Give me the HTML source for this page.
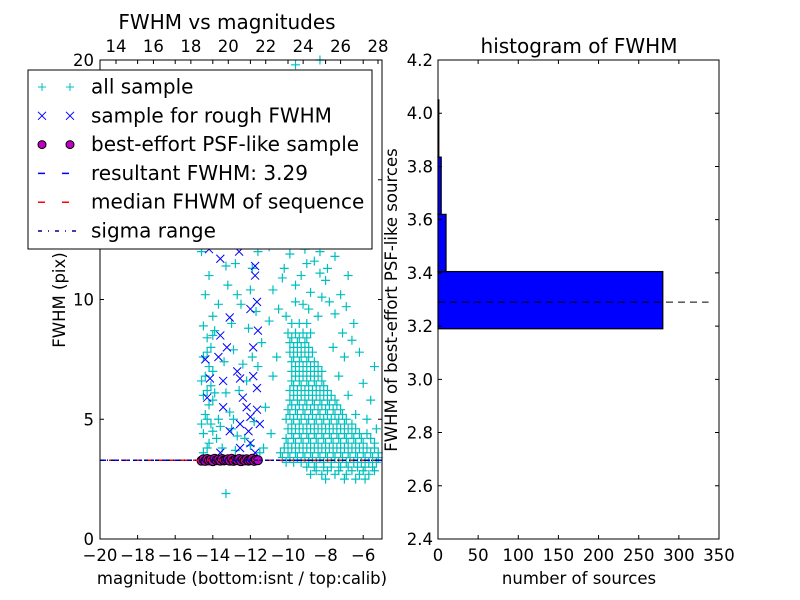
<!DOCTYPE html>
<html><head><meta charset="utf-8">
<style>
body{margin:0;background:#fff}
svg{display:block;font-family:"DejaVu Sans","Liberation Sans",sans-serif}
</style></head>
<body>
<svg id="chart" width="800" height="600" xmlns="http://www.w3.org/2000/svg">
<rect width="800" height="600" fill="#fff"/>
<g id="left"></g>
<g id="right"></g>
</svg>
<script>
// ---------- data ----------
const cyanData = "-9.0,3.0 -8.6,3.0 -8.1,3.0 -7.7,3.0 -7.2,3.0 -6.8,3.0 -6.3,3.0 -5.9,3.0 -5.5,3.0 " +
"-8.8,2.7 -8.2,2.7 -7.5,2.7 -6.9,2.7 -6.2,2.7 -5.7,2.7 -8.0,2.5 -7.0,2.5 -6.4,2.5 -5.9,2.5 " +
"-8.5,2.85 -7.9,2.85 -7.3,2.85 -6.6,2.85 -6.0,2.85 -5.4,2.85 " +
"-10.3,3.4 -9.9,3.4 -9.5,3.4 -9.1,3.4 -8.7,3.4 -8.3,3.4 -7.9,3.4 -7.5,3.4 -7.1,3.4 -6.7,3.4 -6.3,3.4 -5.9,3.4 -5.5,3.4 -5.2,3.4 " +
"-10.1,3.2 -9.7,3.2 -9.3,3.2 -8.9,3.2 -8.5,3.2 -8.1,3.2 -7.7,3.2 -7.3,3.2 -6.9,3.2 -6.5,3.2 -6.1,3.2 -5.7,3.2 -5.3,3.2 " +
"-10.4,3.6 -10.0,3.6 -9.6,3.6 -9.2,3.6 -8.8,3.6 -8.4,3.6 -8.0,3.6 -7.6,3.6 -7.2,3.6 -6.8,3.6 -6.4,3.6 -6.0,3.6 -5.6,3.6 -5.2,3.6 " +
"-10.2,3.8 -9.8,3.8 -9.4,3.8 -9.0,3.8 -8.6,3.8 -8.2,3.8 -7.8,3.8 -7.4,3.8 -7.0,3.8 -6.6,3.8 -6.2,3.8 -5.8,3.8 -5.4,3.8 " +
"-10.0,4.0 -9.6,4.0 -9.2,4.0 -8.8,4.0 -8.4,4.0 -8.0,4.0 -7.6,4.0 -7.2,4.0 -6.8,4.0 -6.4,4.0 -6.0,4.0 -5.4,4.0 " +
"-10.1,4.2 -9.7,4.2 -9.3,4.2 -8.9,4.2 -8.5,4.2 -8.1,4.2 -7.7,4.2 -7.3,4.2 -6.9,4.2 -6.5,4.2 -6.1,4.2 -5.6,4.2 " +
"-9.8,4.4 -9.4,4.4 -9.0,4.4 -8.6,4.4 -8.2,4.4 -7.8,4.4 -7.4,4.4 -7.0,4.4 -6.6,4.4 -6.2,4.4 -5.8,4.4 " +
"-10.0,4.6 -9.6,4.6 -9.2,4.6 -8.8,4.6 -8.4,4.6 -8.0,4.6 -7.6,4.6 -7.2,4.6 -6.8,4.6 -6.4,4.6 " +
"-9.8,4.8 -9.4,4.8 -9.0,4.8 -8.6,4.8 -8.2,4.8 -7.8,4.8 -7.4,4.8 -7.0,4.8 -6.6,4.8 " +
"-10.1,5.0 -9.7,5.0 -9.3,5.0 -8.9,5.0 -8.5,5.0 -8.1,5.0 -7.7,5.0 -7.3,5.0 -6.9,5.0 " +
"-9.9,5.2 -9.5,5.2 -9.1,5.2 -8.7,5.2 -8.3,5.2 -7.9,5.2 -7.5,5.2 -7.1,5.2 " +
"-10.0,5.4 -9.6,5.4 -9.2,5.4 -8.8,5.4 -8.4,5.4 -8.0,5.4 -7.6,5.4 -7.2,5.4 " +
"-9.8,5.6 -9.4,5.6 -9.0,5.6 -8.6,5.6 -8.2,5.6 -7.8,5.6 -7.4,5.6 " +
"-9.9,5.8 -9.5,5.8 -9.1,5.8 -8.7,5.8 -8.3,5.8 -7.9,5.8 -7.5,5.8 " +
"-9.7,6.0 -9.3,6.0 -8.9,6.0 -8.5,6.0 -8.1,6.0 -7.7,6.0 " +
"-9.9,6.2 -9.5,6.2 -9.1,6.2 -8.7,6.2 -8.3,6.2 -7.9,6.2 -9.7,6.4 -9.3,6.4 -8.9,6.4 -8.5,6.4 -8.1,6.4 " +
"-9.8,6.6 -9.4,6.6 -9.0,6.6 -8.6,6.6 -8.2,6.6 -9.6,6.8 -9.2,6.8 -8.8,6.8 -8.4,6.8 " +
"-9.8,7.0 -9.4,7.0 -9.0,7.0 -8.6,7.0 -8.2,7.0 -9.6,7.2 -9.2,7.2 -8.8,7.2 -8.4,7.2 -9.8,7.4 -9.4,7.4 -9.0,7.4 -8.6,7.4 " +
"-9.7,7.6 -9.3,7.6 -8.9,7.6 -9.9,7.8 -9.5,7.8 -9.1,7.8 -8.7,7.8 -9.7,8.0 -9.3,8.0 -8.9,8.0 -9.9,8.2 -9.5,8.2 -9.1,8.2 " +
"-9.8,8.4 -9.4,8.4 -9.0,8.4 -10.0,8.6 -9.6,8.6 -9.2,8.6 -8.8,8.6 -9.8,9.0 -9.4,9.0 -9.0,9.0 " +
"-10.5,9.6 -9.2,9.8 -8.4,9.3 -7.8,9.9 -10.8,10.4 -9.6,10.6 -8.8,10.3 -8.0,10.8 -7.2,10.2 -10.2,11.3 -9.0,11.5 -8.3,11.1 -7.5,11.8 -6.8,11.0 " +
"-11.0,12.2 -9.8,12.4 -8.6,12.7 -7.7,12.3 -9.3,13.4 -8.1,13.6 -10.4,13.0 -7.0,13.8 -9.5,14.5 -8.4,15.0 -7.4,15.5 -10.0,16.2 -8.8,17.0 " +
"-10.1,9.3 -9.6,9.9 -8.9,9.6 -8.2,10.1 -10.3,10.9 -9.3,11.0 -8.6,11.6 -7.9,11.3 -9.9,11.9 -9.1,12.1 -8.3,12.0 -10.6,12.6 -9.0,12.9 " +
"-9.7,13.6 -8.7,14.1 -9.9,15.0 -9.1,15.8 -8.1,16.5 -9.5,17.4 -7.5,9.4 -7.1,8.6 -6.9,9.7 " +
"-9.3,18.5 -7.8,19.3 -9.6,19.8 -8.3,20.0 -6.5,9.0 -6.2,7.8 -6.0,6.5 -5.6,5.8 -5.4,7.2 -6.6,8.3 -7.0,7.6 -7.3,6.8 -6.8,6.0 -7.6,8.0 -5.8,5.0 -5.3,4.6 -6.4,5.2 " +
"-11.2,5.5 -10.8,6.8 -11.4,8.2 -10.9,4.4 -11.3,3.8 -10.6,7.6 -11.0,9.1 " +
"-14.5,3.6 -14.2,4.0 -14.5,4.4 -14.1,4.8 -14.4,5.2 -14.2,5.6 -14.5,6.0 -14.1,6.4 -14.4,6.8 -14.2,7.2 -14.5,7.6 -14.1,8.0 -14.3,8.4 -14.5,8.9 -14.0,9.3 " +
"-14.3,3.8 -14.0,4.5 -14.3,5.0 -14.0,5.8 -14.3,6.2 -14.0,7.0 -14.3,7.8 -14.0,8.5 -14.6,4.8 -14.6,6.6 -13.6,4.7 -13.3,6.1 -12.9,5.0 -12.7,4.3 " +
"-12.2,6.6 -11.9,7.6 -12.4,7.3 -13.7,9.8 -12.7,10.2 -13.3,11.4 -11.9,11.3 -12.2,13.2 -13.0,13.0 " +
"-13.8,4.2 -13.7,5.0 -13.9,6.1 -14.6,12.0 -14.2,11.0 -13.5,12.3 -13.2,10.6 -12.8,11.5 -12.3,12.8 -12.0,10.4 -11.6,12.0 -13.0,9.0 -12.5,9.8 -12.1,8.8 " +
"-11.7,9.5 -13.4,7.4 -12.9,7.9 -12.6,6.2 -13.1,5.3 -12.3,4.2 -11.8,4.9 -11.6,7.2 -13.5,3.8 -12.8,3.7 -13.0,4.6 -12.0,3.9 -11.5,3.6 -13.3,1.9 " +
"-12.5,14.0 -13.8,14.3 -11.9,13.6 -11.3,12.8 -14.4,10.2 -13.9,8.7";
const blueData = "-13.6,11.7 -12.6,12.0 -11.75,11.4 -11.75,11.0 -11.65,9.9 -12.0,9.6 -13.1,9.25 -13.6,8.5 -13.25,8.0 -11.6,8.7 -11.85,8.0 " +
"-14.4,7.5 -13.7,7.6 -12.7,7.0 -12.55,6.7 -14.15,6.7 -13.45,6.6 -11.85,6.8 -14.3,5.9 -13.45,5.5 -12.4,5.9 -11.65,6.3 -12.2,5.5 " +
"-11.65,5.4 -12.0,5.1 -13.1,4.5 -12.55,4.8 -12.1,4.5 -11.5,4.8 -12.0,4.0 -12.55,3.8 -13.6,3.6 -11.75,3.6 -14.4,12.5 -14.2,12.1";
const magentaX = [-14.6,-14.5,-14.4,-14.3,-14.2,-14.1,-14.0,-13.9,-13.8,-13.7,-13.6,-13.5,-13.4,-13.3,-13.2,-13.1,-13.0,-12.9,-12.8,-12.7,-12.6,-12.5,-12.4,-12.3,-12.2,-12.1,-12.0,-11.9,-11.8,-11.7,-11.6];
const magentaY = [3.27,3.33,3.26,3.34,3.28,3.31,3.25,3.35,3.29,3.32,3.27,3.34,3.28,3.30,3.33,3.27,3.35,3.26,3.31,3.29,3.34,3.25,3.32,3.28,3.33,3.27,3.30,3.35,3.26,3.31,3.29];
const resultantFWHM = 3.29;
const medianFWHM = 3.29;
const sigmaLevel = 3.29;
const xTicksBottom = [-20,-18,-16,-14,-12,-10,-8,-6];
const xTicksTop = [14,16,18,20,22,24,26,28];
const yTicksLeft = [0,5,10,15,20];
// histogram
const binLow = [3.19,3.405,3.62,3.835];
const binHigh = [3.405,3.62,3.835,4.05];
const binCounts = [280,10,4,1];
const histTicksX = [0,50,100,150,200,250,300,350];
const histTicksY = [2.4,2.6,2.8,3.0,3.2,3.4,3.6,3.8,4.0,4.2];

const NS="http://www.w3.org/2000/svg";
function mk(parent,tag,attrs,text){const e=document.createElementNS(NS,tag);for(const k in attrs)e.setAttribute(k,attrs[k]);if(text!==undefined)e.textContent=text;parent.appendChild(e);return e;}
function parse(s){return s.trim().split(/\s+/).map(p=>p.split(',').map(Number));}
const TFS=16.5, TITLE=20;

// ---------- left panel ----------
const L=document.getElementById('left');
const lx=v=>100+(v+20)/15*282, ly=v=>539-v/20*479;
const tx=v=>116+(v-14)/14*262;
const cyan=parse(cyanData), blue=parse(blueData);
cyan.forEach(p=>{
  const g=mk(L,'path',{d:`M${lx(p[0])-4.5},${ly(p[1])}h9M${lx(p[0])},${ly(p[1])-4.5}v9`,stroke:'#00bfbf','stroke-width':1.2,fill:'none'});
  
  
});
blue.forEach(p=>{
  const g=mk(L,'path',{d:`M${lx(p[0])-4},${ly(p[1])-4}l8,8M${lx(p[0])-4},${ly(p[1])+4}l8,-8`,stroke:'#0000ff','stroke-width':1,fill:'none'});
  
  
});
magentaX.forEach((x,i)=>{
  const c=mk(L,'circle',{cx:lx(x),cy:ly(magentaY[i]),r:4.5,fill:'#bf00bf',stroke:'#000','stroke-width':1});
  
  
});
let ln=mk(L,'line',{x1:100,x2:382,y1:ly(resultantFWHM),y2:ly(resultantFWHM),stroke:'#0000ff','stroke-width':1.5,'stroke-dasharray':'6,6'});

ln=mk(L,'line',{x1:100,x2:382,y1:ly(medianFWHM),y2:ly(medianFWHM),stroke:'#ff0000','stroke-width':1.5,'stroke-dasharray':'6,6','stroke-dashoffset':3});

ln=mk(L,'line',{x1:100,x2:382,y1:ly(sigmaLevel),y2:ly(sigmaLevel),stroke:'#00008b','stroke-width':1.5,'stroke-dasharray':'4,3,1,3'});

let fr=mk(L,'rect',{x:100,y:60,width:282,height:479,fill:'none',stroke:'#000','stroke-width':1});

xTicksBottom.forEach(v=>{
  mk(L,'path',{d:`M${lx(v)},539v-4M${lx(v)},60v4`,stroke:'#000'});
  const t=mk(L,'text',{x:lx(v),y:561,'font-size':TFS,'text-anchor':'middle'},(v<0?'\u2212'+(-v):v));
  
});
xTicksTop.forEach(v=>{
  mk(L,'path',{d:`M${tx(v)},60v4`,stroke:'#000'});
  const t=mk(L,'text',{x:tx(v),y:52,'font-size':TFS,'text-anchor':'middle'},v);
  
});
yTicksLeft.forEach(v=>{
  mk(L,'path',{d:`M100,${ly(v)}h4M382,${ly(v)}h-4`,stroke:'#000'});
  const t=mk(L,'text',{x:94,y:ly(v)+6,'font-size':TFS,'text-anchor':'end'},v);
  
});
let tt=mk(L,'text',{x:227,y:29,'font-size':TITLE,'text-anchor':'middle'},'FWHM vs magnitudes');

tt=mk(L,'text',{x:242,y:584,'font-size':TFS,'text-anchor':'middle'},'magnitude (bottom:isnt / top:calib)');

tt=mk(L,'text',{x:0,y:0,'font-size':TFS,'text-anchor':'middle',transform:'translate(65,300) rotate(-90)'},'FWHM (pix)');

// legend
const lg=mk(L,'g',{});

mk(lg,'rect',{x:28,y:70,width:344,height:179,fill:'#fff',stroke:'#000','stroke-width':1});
const labels=['all sample','sample for rough FWHM','best-effort PSF-like sample','resultant FWHM: 3.29','median FHWM of sequence','sigma range'];
labels.forEach((s,i)=>{
  const y=87+i*28.8;
  const e=mk(lg,'g',{});
  
  if(i===0)[42,70].forEach(x=>mk(e,'path',{d:`M${x-4},${y}h8M${x},${y-4}v8`,stroke:'#00bfbf'}));
  if(i===1)[42,70].forEach(x=>mk(e,'path',{d:`M${x-4},${y-4}l8,8M${x-4},${y+4}l8,-8`,stroke:'#0000ff'}));
  if(i===2)[42,70].forEach(x=>mk(e,'circle',{cx:x,cy:y,r:4,fill:'#bf00bf',stroke:'#000'}));
  if(i===3)mk(e,'line',{x1:38,x2:76,y1:y,y2:y,stroke:'#0000ff','stroke-width':1.5,'stroke-dasharray':'7,17'});
  if(i===4)mk(e,'line',{x1:38,x2:76,y1:y,y2:y,stroke:'#ff0000','stroke-width':1.5,'stroke-dasharray':'7,17'});
  if(i===5)mk(e,'line',{x1:38,x2:76,y1:y,y2:y,stroke:'#00008b','stroke-width':1.5,'stroke-dasharray':'4,6,1,6'});
  mk(e,'text',{x:91,y:y+6.5,'font-size':20},s);
});

// ---------- right panel ----------
const R=document.getElementById('right');
const hx=v=>438+v/350*281, hy=v=>539-(v-2.4)/1.8*479;
binCounts.forEach((c,i)=>{
  const r=mk(R,'rect',{x:hx(0),y:hy(binHigh[i]),width:hx(c)-hx(0),height:hy(binLow[i])-hy(binHigh[i]),fill:'#0000ff',stroke:'#000','stroke-width':1.2});
  
});
ln=mk(R,'line',{x1:438,x2:hx(337),y1:hy(resultantFWHM),y2:hy(resultantFWHM),stroke:'#000','stroke-width':1,'stroke-dasharray':'7,5'});

fr=mk(R,'rect',{x:438,y:60,width:281,height:479,fill:'none',stroke:'#000','stroke-width':1});

histTicksX.forEach(v=>{
  mk(R,'path',{d:`M${hx(v)},539v-4M${hx(v)},60v4`,stroke:'#000'});
  const t=mk(R,'text',{x:hx(v),y:561,'font-size':TFS,'text-anchor':'middle'},v);
  
});
histTicksY.forEach(v=>{
  mk(R,'path',{d:`M438,${hy(v)}h4M719,${hy(v)}h-4`,stroke:'#000'});
  const t=mk(R,'text',{x:433,y:hy(v)+6,'font-size':TFS,'text-anchor':'end'},v.toFixed(1));
  
});
tt=mk(R,'text',{x:579,y:53,'font-size':TITLE,'text-anchor':'middle'},'histogram of FWHM');

tt=mk(R,'text',{x:579,y:584,'font-size':TFS,'text-anchor':'middle'},'number of sources');

tt=mk(R,'text',{x:0,y:0,'font-size':TFS,'text-anchor':'middle',transform:'translate(397,300) rotate(-90)'},'FWHM of best-effort PSF-like sources');

</script>
</body></html>
